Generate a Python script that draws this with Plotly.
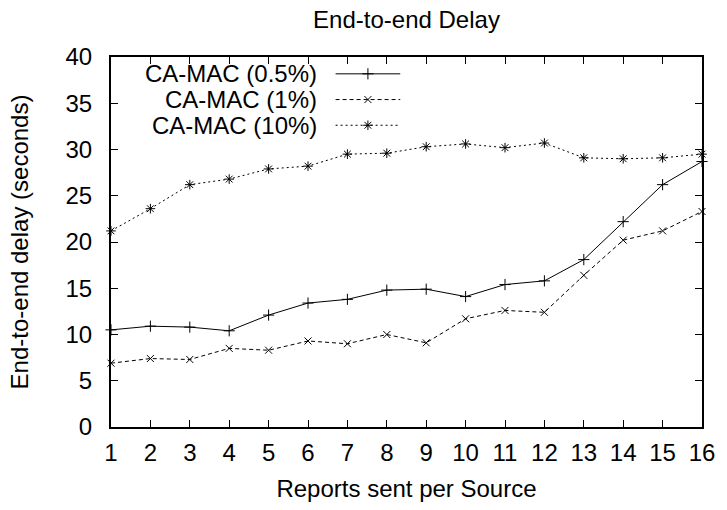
import plotly.graph_objects as go

reports = list(range(1, 17))
mac_05 = [10.5, 10.9, 10.8, 10.4, 12.1, 13.4, 13.8, 14.8, 14.9, 14.1, 15.4, 15.8, 18.1, 22.2, 26.2, 28.7]
mac_1 = [6.9, 7.4, 7.3, 8.5, 8.3, 9.3, 9.0, 10.0, 9.1, 11.7, 12.6, 12.4, 16.4, 20.2, 21.2, 23.3]
mac_10 = [21.2, 23.6, 26.2, 26.8, 27.9, 28.2, 29.5, 29.6, 30.3, 30.6, 30.2, 30.7, 29.1, 29.0, 29.1, 29.5]
series_names = ["CA-MAC (0.5%)", "CA-MAC (1%)", "CA-MAC (10%)"]

FONT = "Liberation Sans, Arial, sans-serif"
styles = [
    dict(dash="solid", symbol="cross-thin-open", size=8),
    dict(dash="4px,3px", symbol="x-thin-open", size=7),
    dict(dash="2px,3px", symbol="asterisk-open", size=8),
]

fig = go.Figure()
for name, vals, st in zip(series_names, [mac_05, mac_1, mac_10], styles):
    fig.add_trace(go.Scatter(
        x=reports, y=vals, mode="lines+markers", name=name, showlegend=False,
        line=dict(color="#000", width=1, dash=st["dash"]),
        marker=dict(symbol=st["symbol"], size=st["size"], color="#000",
                    line=dict(color="#000", width=1)),
        cliponaxis=False,
    ))

# custom gnuplot-style legend (text right-aligned, sample to the right)
leg_rows = [0.9545, 0.8850, 0.8155]
leg_x0, leg_x1, leg_text_x = 0.380, 0.4894, 0.352
for name, st, ry in zip(series_names, styles, leg_rows):
    fig.add_trace(go.Scatter(
        x=[leg_x0, leg_x1], y=[ry, ry], xaxis="x2", yaxis="y2", mode="lines",
        line=dict(color="#000", width=1, dash=st["dash"]), showlegend=False,
        hoverinfo="skip"))
    fig.add_trace(go.Scatter(
        x=[(leg_x0 + leg_x1) / 2], y=[ry], xaxis="x2", yaxis="y2", mode="markers",
        marker=dict(symbol=st["symbol"], size=st["size"], color="#000",
                    line=dict(color="#000", width=1)),
        showlegend=False, hoverinfo="skip"))
    fig.add_annotation(text=name, xref="paper", yref="paper", x=leg_text_x, y=ry,
                       xanchor="right", yanchor="middle", showarrow=False,
                       font=dict(family=FONT, size=24, color="#000"))

axis_common = dict(
    showgrid=False, zeroline=False, showline=True, linecolor="#000", linewidth=2,
    mirror="ticks", ticks="inside", ticklen=7, tickwidth=1, tickcolor="#000",
    tickfont=dict(family=FONT, size=24, color="#000"),
)

fig.update_layout(
    width=727, height=510,
    margin=dict(l=111, r=22, t=57, b=79),
    paper_bgcolor="white", plot_bgcolor="white",
    title=dict(text="End-to-end Delay", x=0.5, xref="paper", y=1 - 20 / 510,
               yanchor="middle", xanchor="center",
               font=dict(family=FONT, size=24, color="#000")),
    xaxis=dict(range=[1, 16], dtick=1, tick0=1, ticklabelstandoff=3,
               title=dict(text="Reports sent per Source", standoff=15,
                          font=dict(family=FONT, size=24, color="#000")),
               **axis_common),
    yaxis=dict(range=[0, 40], dtick=5, ticklabelstandoff=12,
               title=dict(text="End-to-end delay (seconds)", standoff=30,
                          font=dict(family=FONT, size=24, color="#000")),
               **axis_common),
    xaxis2=dict(overlaying="x", range=[0, 1], visible=False, fixedrange=True),
    yaxis2=dict(overlaying="y", range=[0, 1], visible=False, fixedrange=True),
)

fig.write_html("out.html", config={"displayModeBar": False},
               post_script="document.body.style.margin='0';")
